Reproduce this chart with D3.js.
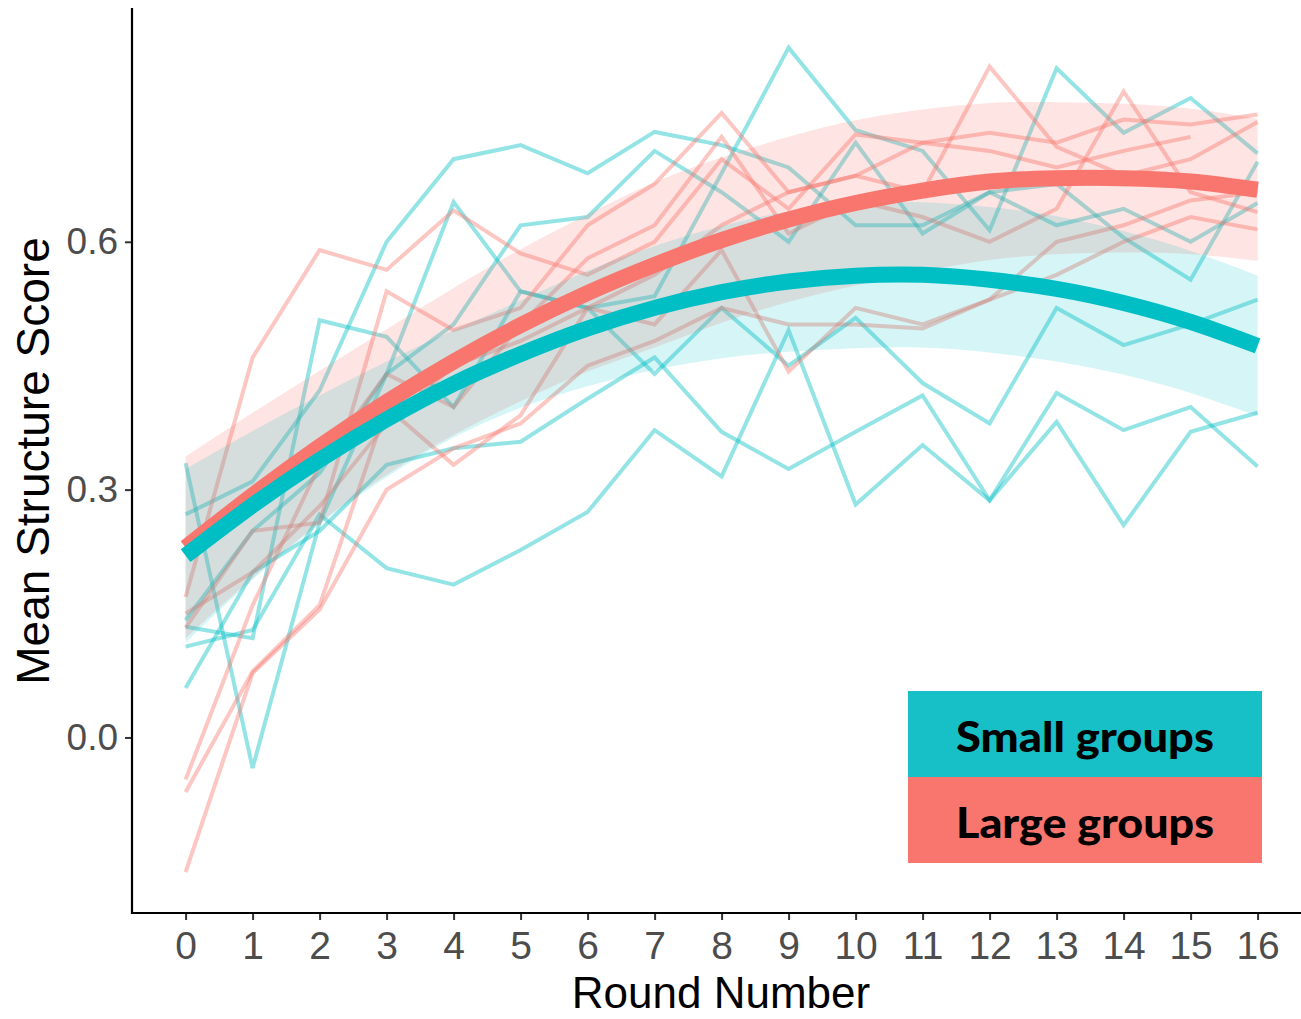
<!DOCTYPE html>
<html>
<head>
<meta charset="utf-8">
<script src="https://cdn.jsdelivr.net/npm/d3@7"></script>
<style>
  html, body { margin: 0; padding: 0; background: #fff; }
  svg { display: block; }
</style>
</head>
<body>
<svg id="chart" width="1301" height="1019"></svg>
<script>
// Rounds on the x axis
const rounds = d3.range(0, 17);
const xTicks = d3.range(0, 17);
const yTicks = [0.0, 0.3, 0.6];

// Per-group trajectories of mean structure score, small groups
const smallGroups = [
  [0.27, 0.31, 0.42, 0.60, 0.70, 0.717, 0.683, 0.733, 0.717, 0.69, 0.62, 0.62, 0.66, 0.62, 0.64, 0.60, 0.647],
  [0.142, 0.25, 0.32, 0.44, 0.648, 0.54, 0.52, 0.534, 0.683, 0.835, 0.735, 0.71, 0.614, 0.81, 0.732, 0.774, 0.707],
  [0.332, -0.037, 0.26, 0.44, 0.50, 0.62, 0.63, 0.71, 0.66, 0.60, 0.72, 0.61, 0.66, 0.67, 0.605, 0.554, 0.697],
  [0.11, 0.13, 0.27, 0.205, 0.185, 0.227, 0.273, 0.372, 0.316, 0.493, 0.282, 0.354, 0.287, 0.382, 0.257, 0.37, 0.393],
  [0.06, 0.20, 0.25, 0.33, 0.35, 0.358, 0.41, 0.46, 0.37, 0.325, 0.37, 0.414, 0.287, 0.417, 0.372, 0.40, 0.328],
  [0.134, 0.12, 0.505, 0.485, 0.40, 0.54, 0.52, 0.44, 0.52, 0.45, 0.508, 0.429, 0.38, 0.52, 0.475, 0.50, 0.53]
];

// Per-group trajectories of mean structure score, large groups
const largeGroups = [
  [0.17, 0.46, 0.59, 0.566, 0.638, 0.586, 0.56, 0.60, 0.70, 0.64, 0.73, 0.72, 0.732, 0.72, 0.748, 0.742, 0.754],
  [0.133, 0.25, 0.26, 0.54, 0.493, 0.52, 0.62, 0.67, 0.756, 0.66, 0.68, 0.66, 0.812, 0.715, 0.68, 0.70, 0.745],
  [-0.051, 0.16, 0.33, 0.44, 0.40, 0.50, 0.58, 0.62, 0.727, 0.61, 0.65, 0.63, 0.60, 0.64, 0.782, 0.66, 0.636],
  [-0.066, 0.08, 0.16, 0.40, 0.33, 0.39, 0.52, 0.50, 0.59, 0.443, 0.52, 0.50, 0.53, 0.56, 0.60, 0.63, 0.615],
  [-0.163, 0.078, 0.155, 0.30, 0.35, 0.38, 0.45, 0.48, 0.52, 0.50, 0.50, 0.495, 0.53, 0.60, 0.62, 0.65, 0.66],
  [0.15, 0.20, 0.28, 0.38, 0.45, 0.48, 0.52, 0.56, 0.62, 0.66, 0.68, 0.72, 0.71, 0.69, 0.71, 0.727]
];

// Quadratic trend per group size, with its confidence band
const smallFit   = [0.220, 0.281, 0.336, 0.385, 0.428, 0.464, 0.495, 0.520, 0.539, 0.552, 0.559, 0.560, 0.554, 0.543, 0.526, 0.503, 0.474];
const smallLower = [0.115, 0.191, 0.258, 0.315, 0.363, 0.399, 0.425, 0.445, 0.459, 0.467, 0.471, 0.472, 0.466, 0.455, 0.439, 0.417, 0.389];
const smallUpper = [0.325, 0.371, 0.414, 0.455, 0.493, 0.529, 0.565, 0.595, 0.619, 0.637, 0.647, 0.648, 0.642, 0.631, 0.613, 0.589, 0.559];

const largeFit   = [0.230, 0.293, 0.352, 0.406, 0.455, 0.499, 0.538, 0.572, 0.602, 0.627, 0.647, 0.662, 0.673, 0.677, 0.677, 0.673, 0.663];
const largeLower = [0.120, 0.193, 0.260, 0.318, 0.366, 0.407, 0.443, 0.472, 0.502, 0.527, 0.547, 0.564, 0.578, 0.585, 0.587, 0.585, 0.577];
const largeUpper = [0.340, 0.393, 0.444, 0.494, 0.544, 0.591, 0.633, 0.672, 0.702, 0.727, 0.747, 0.760, 0.768, 0.769, 0.767, 0.761, 0.749];

const legendLabels = ["Small groups", "Large groups"];

const TEAL = "#00BFC4";
const SALMON = "#F8766D";

const svg = d3.select("#chart");
svg.append("rect").attr("width", 1301).attr("height", 1019).attr("fill", "#fff");

const x = d3.scaleLinear().domain([-0.8, 16.8]).range([132, 1311.2]);
const y = d3.scaleLinear().domain([-0.2125, 0.883]).range([913, 8]);

const plot = svg.append("g");

// Thin per-group lines
const thin = d3.line().x((d, i) => x(rounds[i])).y(d => y(d));
function drawThin(series, color) {
  plot.append("g").selectAll("path").data(series).join("path")
    .attr("d", thin)
    .attr("fill", "none")
    .attr("stroke", color)
    .attr("stroke-opacity", 0.42)
    .attr("stroke-width", 4)
    .attr("stroke-linejoin", "miter");
}
drawThin(smallGroups, TEAL);
drawThin(largeGroups, SALMON);

// Confidence bands
function drawBand(lower, upper, color, op) {
  const area = d3.area()
    .x((d, i) => x(rounds[i]))
    .y0(d => y(d[0]))
    .y1(d => y(d[1]))
    .curve(d3.curveNatural);
  plot.append("path")
    .datum(lower.map((l, i) => [l, upper[i]]))
    .attr("d", area)
    .attr("fill", color)
    .attr("fill-opacity", op);
}
drawBand(largeLower, largeUpper, SALMON, 0.2);
drawBand(smallLower, smallUpper, TEAL, 0.16);

// Trend lines
const smooth = d3.line().x((d, i) => x(rounds[i])).y(d => y(d)).curve(d3.curveNatural);
plot.append("path").datum(largeFit).attr("d", smooth)
  .attr("fill", "none").attr("stroke", SALMON).attr("stroke-width", 16);
plot.append("path").datum(smallFit).attr("d", smooth)
  .attr("fill", "none").attr("stroke", TEAL).attr("stroke-width", 16);

// Axes
const font = "'Liberation Sans', Arial, sans-serif";
const xAxis = svg.append("g").attr("transform", "translate(0,913)")
  .call(d3.axisBottom(x).tickValues(xTicks).tickSize(7).tickPadding(11).tickFormat(d3.format("d")));
xAxis.select(".domain").remove();
xAxis.append("line").attr("x1", 131).attr("x2", 1301).attr("y1", 0).attr("y2", 0)
  .attr("stroke", "#000").attr("stroke-width", 2.2);

const yAxis = svg.append("g").attr("transform", "translate(132,0)")
  .call(d3.axisLeft(y).tickValues(yTicks).tickSize(7).tickPadding(7).tickFormat(d3.format(".1f")));
yAxis.select(".domain").remove();
yAxis.append("line").attr("x1", 0).attr("x2", 0).attr("y1", 8).attr("y2", 914)
  .attr("stroke", "#000").attr("stroke-width", 2.2);

[xAxis, yAxis].forEach(a => {
  a.selectAll(".tick line").attr("stroke", "#333").attr("stroke-width", 2);
  a.selectAll(".tick text").attr("fill", "#4D4D4D").style("font-family", font);
});
xAxis.selectAll(".tick text").style("font-size", "39px");
yAxis.selectAll(".tick text").style("font-size", "37px");

// Axis titles
svg.append("text").attr("x", 721).attr("y", 1008).attr("text-anchor", "middle")
  .style("font-family", font).style("font-size", "44px").attr("fill", "#000")
  .text("Round Number");
svg.append("text").attr("transform", "translate(49,461) rotate(-90)").attr("text-anchor", "middle")
  .style("font-family", font).style("font-size", "46px").attr("fill", "#000")
  .text("Mean Structure Score");

// Legend boxes
const legend = svg.append("g");
const legendColors = ["#17C0C6", SALMON];
legendLabels.forEach((lab, i) => {
  const top = 691 + i * 86;
  legend.append("rect").attr("x", 908).attr("y", top).attr("width", 354).attr("height", 86)
    .attr("fill", legendColors[i]);
  legend.append("text").attr("x", 1085).attr("y", top + 61).attr("text-anchor", "middle")
    .style("font-family", "Lato, 'Open Sans', sans-serif").style("font-weight", 900).style("font-size", "42px")
    .attr("fill", "#000")
    .attr("textLength", 258).attr("lengthAdjust", "spacingAndGlyphs")
    .text(lab);
});
</script>
</body>
</html>
